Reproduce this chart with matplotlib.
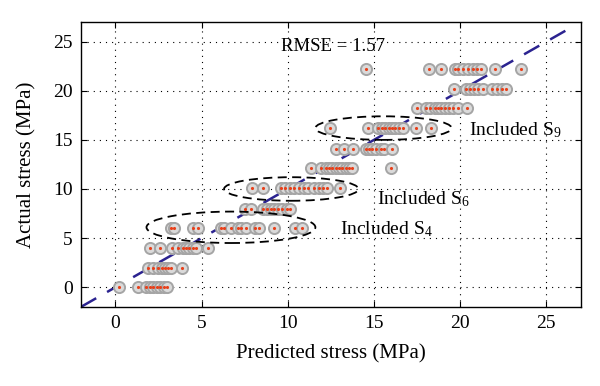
import matplotlib
matplotlib.use("Agg")
import matplotlib.pyplot as plt
from matplotlib.patches import Ellipse

plt.rcParams["font.family"] = ["Liberation Serif", "DejaVu Serif"]
plt.rcParams["mathtext.fontset"] = "custom"
plt.rcParams["mathtext.rm"] = "Liberation Serif"
plt.rcParams["mathtext.it"] = "Liberation Serif:italic"

# Actual stress level of each row and the predicted values in that row
row_actual = [0.0, 2.0, 4.0, 6.0, 8.0, 10.1, 12.1, 14.1, 16.2, 18.2, 20.2, 22.2]
row_predicted = [
    [0.2, 1.3, 1.8, 2.0, 2.2, 2.4, 2.6, 2.8, 3.0],
    [1.9, 2.2, 2.45, 2.7, 2.9, 3.05, 3.25, 3.85],
    [2.0, 2.6, 3.3, 3.65, 3.9, 4.1, 4.25, 4.5, 4.7, 5.35],
    [3.2, 3.4, 4.5, 4.8, 6.1, 6.3, 6.7, 7.1, 7.3, 7.6, 8.1, 8.3, 9.2, 10.4, 10.8],
    [7.5, 7.85, 8.58, 8.8, 9.0, 9.2, 9.45, 9.67, 9.94, 10.15],
    [7.9, 8.54, 9.6, 9.85, 10.1, 10.35, 10.63, 10.92, 11.2, 11.5, 11.8, 12.05, 12.3, 13.0],
    [11.35, 11.95, 12.24, 12.38, 12.57, 12.77, 12.97, 13.16, 13.35, 13.55, 13.74, 15.98],
    [12.77, 13.26, 13.78, 14.52, 14.72, 14.91, 15.1, 15.4, 15.6, 16.04],
    [12.47, 14.68, 15.26, 15.46, 15.65, 15.85, 16.04, 16.24, 16.47, 16.67, 17.44, 18.32],
    [17.49, 18.03, 18.27, 18.52, 18.71, 18.91, 19.1, 19.36, 19.59, 19.88, 20.37],
    [19.65, 20.33, 20.57, 20.82, 21.05, 21.35, 21.83, 22.12, 22.42, 22.67],
    [14.52, 18.19, 18.87, 19.69, 19.88, 20.18, 20.47, 20.76, 20.95, 21.19, 22.03, 23.53],
]

rmse = 1.57
ticks = [0, 5, 10, 15, 20, 25]
ref_line = [-2, 26.6]

# highlighted groups: (center x, center y, width, height, label, label x, label y)
groups = [
    (6.7, 6.1, 9.8, 3.2, "Included S$_4$", 13.0, 5.9),
    (10.2, 10.0, 7.8, 2.4, "Included S$_6$", 15.2, 9.0),
    (15.55, 16.2, 7.9, 2.4, "Included S$_9$", 20.5, 16.0),
]

xs = [x for row, y in zip(row_predicted, row_actual) for x in row]
ys = [y for row, y in zip(row_predicted, row_actual) for x in row]

fig = plt.figure(figsize=(6.0, 3.86), dpi=100)
ax = fig.add_axes([0.135, 0.205, 0.833, 0.738])

ax.plot(ref_line, ref_line, color="#2b2390", lw=1.8, dashes=(7, 5), zorder=1)
ax.plot(xs, ys, "o", ls="none", ms=8, mfc="#dadada", mec="#a5a5a5", mew=1.4, zorder=2)
ax.plot(xs, ys, ".", ls="none", ms=2.5, color="#e8401a", zorder=3)

for cx, cy, w, h, label, tx, ty in groups:
    ax.add_patch(Ellipse((cx, cy), w, h, fill=False, ec="black", lw=1.3,
                         ls=(0, (5, 3)), zorder=4))
    ax.text(tx, ty, label, fontsize=14, va="center", ha="left")

ax.text(12.6, 24.5, f"RMSE = {rmse}", fontsize=13.5, ha="center", va="center")

ax.set_xlim(-2, 27)
ax.set_ylim(-2, 27)
ax.set_xticks(ticks)
ax.set_yticks(ticks)
ax.tick_params(direction="in", top=True, right=True, labelsize=14, length=4, pad=6)
ax.grid(True, color="black", ls=(0, (1, 4.5)), lw=0.8)
ax.set_xlabel("Predicted stress (MPa)", fontsize=15, labelpad=9)
ax.set_ylabel("Actual stress (MPa)", fontsize=15, labelpad=12)
for s in ax.spines.values():
    s.set_linewidth(1.0)

fig.savefig("out.png", dpi=100)
